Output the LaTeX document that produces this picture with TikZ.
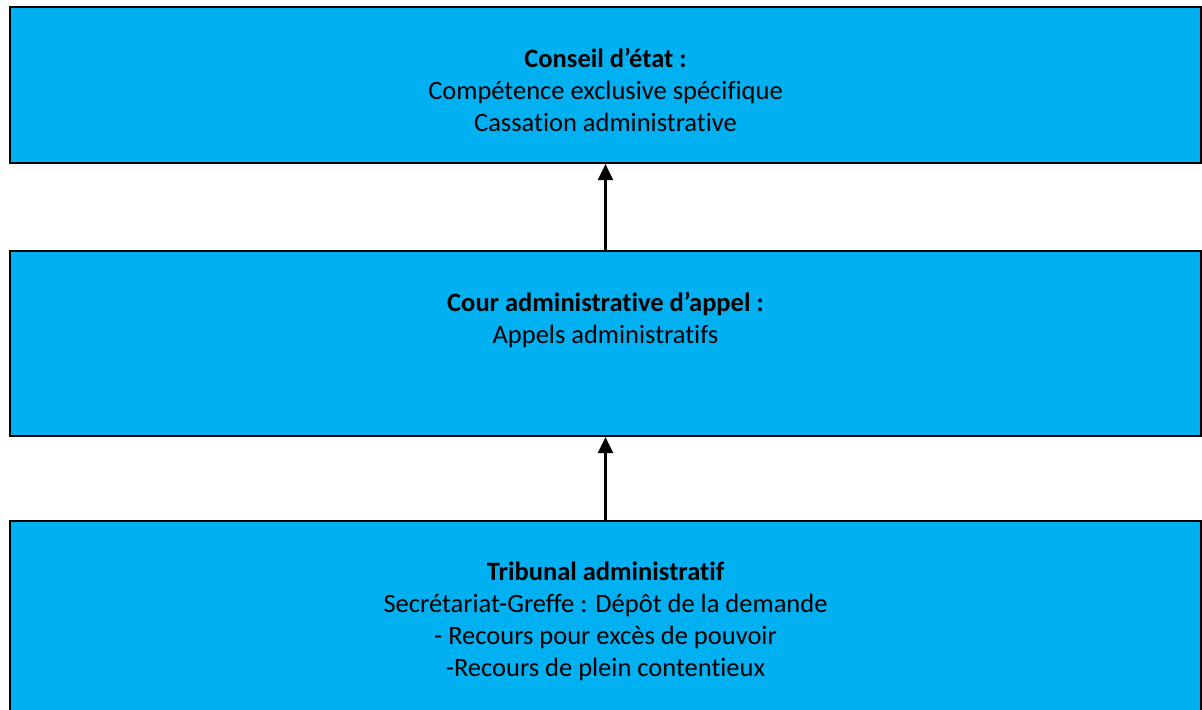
\documentclass[tikz,border=0pt]{standalone}
\usepackage{fontspec}
\setmainfont{Carlito}[Ligatures=NoCommon]
\usetikzlibrary{positioning}
\usetikzlibrary{arrows.meta}
\definecolor{bleucour}{HTML}{00B0F0}
\tikzset{
  juridiction/.style={draw=black, line width=2.2bp, fill=bleucour, minimum width=1191bp, inner sep=0pt},
  libelle/.style={align=center, inner sep=0pt, font=\fontsize{26.5bp}{32bp}\selectfont},
}

\begin{document}
\begin{tikzpicture}[x=1bp, y=-1bp]
\useasboundingbox (0,0) rectangle (1202,710);
% Juridictions
\node [juridiction, minimum height=156bp] (ce) at (605.5,85) {};
\node [juridiction, minimum height=185bp] (caa) at (605.5,343.5) {};
\node [juridiction, minimum height=198bp] (ta) at (605.5,620) {};
% Textes
\node [libelle, below=42bp of ce.north] (ceTexte) {\textbf{Conseil d’état :}\\Compétence exclusive spécifique\\Cassation administrative};
\node [libelle, below=42bp of caa.north] (caaTexte) {\textbf{Cour administrative d’appel :}\\Appels administratifs};
\node [libelle, below=42bp of ta.north] (taTexte) {\textbf{Tribunal administratif}\\Secrétariat-Greffe : Dépôt de la demande\\- Recours pour excès de pouvoir\\-Recours de plein contentieux};
% Recours
\draw [-{Triangle[length=16bp, width=15bp]}, line width=2.2bp] (caa.north) -- (ce.south);
\draw [-{Triangle[length=16bp, width=15bp]}, line width=2.2bp] (ta.north) -- (caa.south);
\end{tikzpicture}
\end{document}
